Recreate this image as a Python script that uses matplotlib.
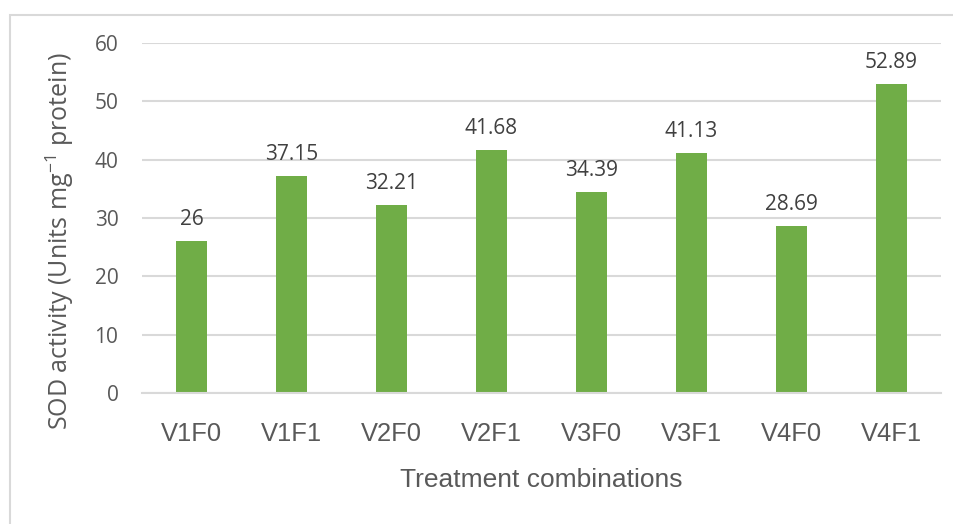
import matplotlib
matplotlib.use("Agg")
import matplotlib.pyplot as plt
from matplotlib.patches import Rectangle

categories = ["V1F0", "V1F1", "V2F0", "V2F1", "V3F0", "V3F1", "V4F0", "V4F1"]
sod_values = [26, 37.15, 32.21, 41.68, 34.39, 41.13, 28.69, 52.89]
value_labels = ["26", "37.15", "32.21", "41.68", "34.39", "41.13", "28.69", "52.89"]
y_ticks = [0, 10, 20, 30, 40, 50, 60]

BAR = "#70AD47"
GRID = "#D9D9D9"
TXT = "#595959"
LBL = "#404040"

plt.rcParams["mathtext.fontset"] = "custom"
plt.rcParams["mathtext.rm"] = "Open Sans"
plt.rcParams["mathtext.it"] = "Open Sans"

fig = plt.figure(figsize=(9.54, 5.24), dpi=100)
ax = fig.add_axes([142 / 954, 1 - 393 / 524, 799 / 954, 350 / 524])

x = range(len(categories))
ax.bar(x, sod_values, width=0.31, color=BAR, zorder=3)
for xi, v, s in zip(x, sod_values, value_labels):
    ax.annotate(s, (xi, v), xytext=(0, 8), textcoords="offset points",
                ha="center", va="bottom", fontsize=15, color=LBL,
                family="Open Sans")

ax.set_xlim(-0.5, len(categories) - 0.5)
ax.set_ylim(0, 60)
ax.set_yticks(y_ticks)
ax.set_yticklabels([str(t) for t in y_ticks], family="Open Sans", fontsize=15, color=TXT)
ax.set_xticks(list(x))
ax.set_xticklabels(categories, family="Liberation Sans", fontsize=18.4, color=TXT)
ax.tick_params(axis="y", length=0, pad=17)
ax.tick_params(axis="x", length=0, pad=21)
ax.yaxis.grid(True, color=GRID, linewidth=1.5, zorder=0)
for sp in ["top", "right", "left"]:
    ax.spines[sp].set_visible(False)
ax.spines["bottom"].set_color(GRID)
ax.spines["bottom"].set_linewidth(1.5)
ax.spines["bottom"].set_zorder(4)

ax.set_xlabel("Treatment combinations", family="Liberation Sans", fontsize=19,
              color=TXT)
ax.xaxis.set_label_coords(0.5, (393 - 468) / 350)
ax.set_ylabel(r"SOD activity (Units mg$^{-1}$ protein)", family="Open Sans",
              fontsize=18, color=TXT)
ax.yaxis.set_label_coords((76 - 142) / 799, (393 - 241) / 350)

fig.patches.append(Rectangle((10 / 954, -0.05), 1.1, 1 - 15 / 524 + 0.05,
                             transform=fig.transFigure, fill=False,
                             edgecolor=GRID, linewidth=1.5))

fig.savefig("out.png", dpi=100)
